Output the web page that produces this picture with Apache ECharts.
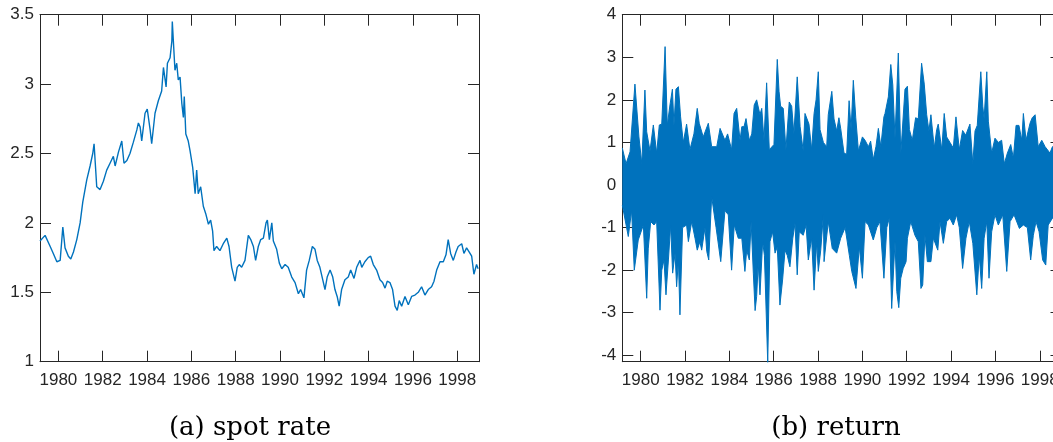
<!DOCTYPE html>
<html>
<head>
<meta charset="utf-8">
<script src="https://cdn.jsdelivr.net/npm/echarts@6/dist/echarts.min.js"></script>
<style>
  html, body { margin: 0; padding: 0; background: #fff; overflow: hidden; }
  #chart { width: 1075px; height: 442px; }
</style>
</head>
<body>
<div id="chart"></div>
<script>
// tick labels
const yearTicks = [1980, 1982, 1984, 1986, 1988, 1990, 1992, 1994, 1996, 1998];
const spotTicks = [1, 1.5, 2, 2.5, 3, 3.5];
const returnTicks = [-4, -3, -2, -1, 0, 1, 2, 3, 4];
const captions = ['(a) spot rate', '(b) return'];

// (a) spot rate: [year, rate]
const spotRate = [
  [1979.17, 1.87], [1979.40, 1.91], [1979.48, 1.91], [1979.63, 1.83], [1979.77, 1.78],
  [1979.93, 1.72], [1980.08, 1.73], [1980.20, 1.97], [1980.30, 1.82], [1980.45, 1.76],
  [1980.56, 1.74], [1980.68, 1.79], [1980.83, 1.88], [1980.98, 2.00], [1981.10, 2.15],
  [1981.28, 2.31], [1981.43, 2.41], [1981.55, 2.50], [1981.61, 2.57], [1981.73, 2.26],
  [1981.88, 2.24], [1982.03, 2.30], [1982.18, 2.38], [1982.33, 2.43], [1982.48, 2.48],
  [1982.56, 2.41], [1982.71, 2.51], [1982.86, 2.59], [1982.96, 2.43], [1983.09, 2.45],
  [1983.23, 2.50], [1983.38, 2.58], [1983.54, 2.67], [1983.61, 2.72], [1983.69, 2.69],
  [1983.76, 2.59], [1983.91, 2.79], [1984.01, 2.82], [1984.14, 2.67], [1984.21, 2.57],
  [1984.36, 2.79], [1984.51, 2.88], [1984.66, 2.95], [1984.74, 3.12], [1984.86, 2.98],
  [1984.92, 3.15], [1985.04, 3.19], [1985.12, 3.31], [1985.14, 3.45], [1985.26, 3.10],
  [1985.34, 3.15], [1985.41, 3.03], [1985.49, 3.05], [1985.57, 2.86], [1985.64, 2.76],
  [1985.68, 2.91], [1985.75, 2.64], [1985.86, 2.59], [1985.94, 2.52], [1986.06, 2.40],
  [1986.17, 2.21], [1986.24, 2.38], [1986.31, 2.21], [1986.42, 2.26], [1986.54, 2.12],
  [1986.66, 2.06], [1986.77, 1.99], [1986.87, 2.02], [1986.96, 1.94], [1987.02, 1.80],
  [1987.14, 1.83], [1987.29, 1.80], [1987.44, 1.85], [1987.60, 1.89], [1987.70, 1.83],
  [1987.82, 1.68], [1987.97, 1.58], [1988.07, 1.68], [1988.16, 1.70], [1988.27, 1.68],
  [1988.42, 1.73], [1988.57, 1.91], [1988.68, 1.88], [1988.80, 1.83], [1988.90, 1.73],
  [1989.02, 1.83], [1989.13, 1.88], [1989.25, 1.89], [1989.37, 2.00], [1989.43, 2.02],
  [1989.52, 1.88], [1989.63, 2.00], [1989.70, 1.87], [1989.85, 1.81], [1989.97, 1.71],
  [1990.08, 1.67], [1990.23, 1.70], [1990.37, 1.68], [1990.53, 1.61], [1990.68, 1.57],
  [1990.83, 1.49], [1990.93, 1.52], [1991.08, 1.46], [1991.20, 1.66], [1991.32, 1.73],
  [1991.46, 1.83], [1991.58, 1.81], [1991.68, 1.73], [1991.80, 1.68], [1991.93, 1.59],
  [1992.03, 1.52], [1992.13, 1.61], [1992.26, 1.66], [1992.38, 1.61], [1992.48, 1.52],
  [1992.58, 1.47], [1992.67, 1.40], [1992.78, 1.52], [1992.93, 1.59], [1993.08, 1.61],
  [1993.19, 1.66], [1993.34, 1.60], [1993.46, 1.68], [1993.61, 1.73], [1993.69, 1.68],
  [1993.83, 1.72], [1993.98, 1.75], [1994.09, 1.76], [1994.21, 1.70], [1994.36, 1.66],
  [1994.51, 1.59], [1994.63, 1.57], [1994.74, 1.53], [1994.84, 1.58], [1994.96, 1.57],
  [1995.08, 1.52], [1995.19, 1.40], [1995.29, 1.37], [1995.38, 1.44], [1995.49, 1.40],
  [1995.64, 1.47], [1995.79, 1.41], [1995.94, 1.47], [1996.09, 1.48], [1996.24, 1.50],
  [1996.39, 1.54], [1996.54, 1.48], [1996.69, 1.52], [1996.84, 1.54], [1996.95, 1.58],
  [1997.07, 1.66], [1997.22, 1.72], [1997.37, 1.72], [1997.49, 1.77], [1997.59, 1.88],
  [1997.70, 1.78], [1997.82, 1.73], [1997.94, 1.79], [1998.04, 1.83], [1998.20, 1.85],
  [1998.30, 1.78], [1998.42, 1.82], [1998.54, 1.79], [1998.65, 1.76], [1998.75, 1.63],
  [1998.87, 1.70], [1998.94, 1.67]
];

// (b) return: upward spikes and dips of the dense band
const returnHighs = [
  [1979.17, 0.87], [1979.22, 0.87], [1979.34, 0.5], [1979.52, 0.78], [1979.74, 2.37], [1979.92, 1.13],
  [1980.05, 0.5], [1980.19, 2.23], [1980.27, 1.25], [1980.42, 0.8], [1980.57, 1.41],
  [1980.72, 0.75], [1980.84, 1.41], [1980.95, 1.43], [1981.10, 3.25], [1981.20, 1.4],
  [1981.32, 1.88], [1981.43, 2.25], [1981.50, 1.4], [1981.59, 2.25], [1981.70, 2.31],
  [1981.80, 1.6], [1981.92, 1.0], [1982.07, 1.43], [1982.22, 0.83], [1982.40, 1.2],
  [1982.55, 1.8], [1982.64, 1.45], [1982.82, 1.13], [1983.05, 1.45], [1983.20, 0.9],
  [1983.43, 0.9], [1983.58, 1.33], [1983.80, 1.05], [1983.92, 1.2], [1984.10, 0.83],
  [1984.21, 1.68], [1984.33, 1.8], [1984.48, 1.05], [1984.56, 1.37], [1984.66, 1.37],
  [1984.75, 1.56], [1984.90, 1.05], [1985.01, 1.2], [1985.12, 1.88], [1985.23, 2.0],
  [1985.38, 1.65], [1985.46, 1.8], [1985.56, 1.05], [1985.68, 2.4], [1985.80, 0.83],
  [1986.01, 0.95], [1986.16, 2.95], [1986.24, 2.2], [1986.31, 1.85], [1986.43, 1.8],
  [1986.55, 0.83], [1986.70, 1.95], [1986.81, 1.85], [1986.91, 1.2], [1987.06, 2.54],
  [1987.19, 1.37], [1987.33, 0.8], [1987.41, 1.68], [1987.59, 1.43], [1987.71, 0.83],
  [1987.82, 1.68], [1987.91, 2.0], [1988.01, 2.66], [1988.09, 1.3], [1988.24, 1.0],
  [1988.39, 0.9], [1988.46, 1.65], [1988.62, 2.2], [1988.72, 1.55], [1988.84, 1.27],
  [1988.94, 1.58], [1989.02, 1.33], [1989.17, 0.75], [1989.29, 0.72], [1989.40, 1.98],
  [1989.49, 1.3], [1989.59, 2.46], [1989.70, 1.58], [1989.82, 0.8], [1990.00, 1.13],
  [1990.12, 1.05], [1990.27, 0.9], [1990.37, 1.03], [1990.49, 0.6], [1990.61, 0.9],
  [1990.72, 1.33], [1990.83, 0.9], [1990.97, 1.6], [1991.02, 1.68], [1991.17, 2.07],
  [1991.28, 2.83], [1991.37, 2.35], [1991.47, 1.1], [1991.55, 1.13], [1991.62, 3.1],
  [1991.73, 0.72], [1991.92, 2.25], [1992.03, 2.32], [1992.12, 1.3], [1992.25, 1.05],
  [1992.40, 1.58], [1992.52, 1.55], [1992.67, 2.86], [1992.79, 2.37], [1992.90, 1.65],
  [1993.00, 1.27], [1993.09, 1.65], [1993.24, 0.87], [1993.35, 1.3], [1993.42, 1.43],
  [1993.58, 0.83], [1993.69, 1.68], [1993.80, 1.13], [1993.95, 1.0], [1994.10, 0.87],
  [1994.22, 1.6], [1994.37, 0.83], [1994.52, 1.28], [1994.66, 1.17], [1994.85, 1.43],
  [1994.98, 0.5], [1995.08, 1.27], [1995.18, 1.4], [1995.25, 1.95], [1995.34, 2.66],
  [1995.43, 1.85], [1995.49, 1.55], [1995.61, 2.66], [1995.68, 1.5], [1995.83, 0.75],
  [1995.98, 1.1], [1996.13, 1.0], [1996.28, 1.05], [1996.40, 0.5], [1996.54, 0.75],
  [1996.69, 0.95], [1996.81, 0.63], [1996.93, 1.4], [1997.06, 1.4], [1997.19, 1.05],
  [1997.26, 1.68], [1997.38, 1.05], [1997.56, 1.45], [1997.66, 1.58], [1997.79, 1.65],
  [1997.93, 0.9], [1998.09, 1.05], [1998.24, 0.9], [1998.46, 0.75], [1998.57, 0.9],
  [1998.98, 0.9]
];

const returnLows = [
  [1979.17, -0.47], [1979.22, -0.47], [1979.44, -1.21], [1979.59, -0.6], [1979.71, -2.0], [1979.89, -1.29],
  [1980.12, -0.94], [1980.27, -2.66], [1980.34, -1.5], [1980.45, -0.86], [1980.60, -0.94],
  [1980.72, -0.86], [1980.87, -2.94], [1980.95, -2.0], [1981.05, -1.76], [1981.14, -2.58],
  [1981.25, -1.76], [1981.35, -0.94], [1981.44, -2.07], [1981.55, -1.6], [1981.62, -2.39],
  [1981.70, -1.76], [1981.77, -3.05], [1981.89, -1.0], [1982.07, -0.94], [1982.15, -1.33],
  [1982.30, -0.86], [1982.45, -1.25], [1982.55, -1.53], [1982.67, -1.33], [1982.75, -1.53],
  [1982.90, -1.0], [1982.98, -1.56], [1983.07, -1.76], [1983.20, -0.27], [1983.40, -1.0],
  [1983.61, -1.8], [1983.80, -0.6], [1983.95, -0.7], [1984.10, -2.0], [1984.22, -0.94],
  [1984.40, -1.25], [1984.56, -1.25], [1984.70, -2.03], [1984.78, -1.53], [1984.90, -1.76],
  [1984.98, -0.86], [1985.08, -2.07], [1985.16, -2.95], [1985.23, -2.62], [1985.30, -1.84],
  [1985.38, -2.58], [1985.50, -1.33], [1985.58, -1.65], [1985.73, -4.18], [1985.83, -1.33],
  [1985.95, -1.1], [1986.06, -1.6], [1986.16, -1.45], [1986.28, -2.82], [1986.40, -2.23],
  [1986.51, -1.53], [1986.61, -1.65], [1986.73, -1.92], [1986.86, -1.25], [1986.96, -0.9],
  [1987.06, -2.11], [1987.15, -1.1], [1987.33, -1.18], [1987.46, -0.94], [1987.56, -1.76],
  [1987.71, -1.25], [1987.82, -2.47], [1987.94, -1.33], [1988.01, -2.03], [1988.12, -1.53],
  [1988.24, -0.7], [1988.27, -1.8], [1988.46, -0.86], [1988.64, -1.49], [1988.84, -1.6],
  [1989.02, -1.25], [1989.22, -1.0], [1989.41, -1.65], [1989.52, -2.03], [1989.71, -2.43],
  [1989.86, -1.45], [1990.00, -2.19], [1990.12, -0.86], [1990.27, -0.94], [1990.49, -1.29],
  [1990.65, -1.0], [1990.79, -0.86], [1990.97, -2.19], [1991.10, -1.0], [1991.21, -0.78],
  [1991.32, -2.9], [1991.47, -1.33], [1991.55, -2.5], [1991.64, -2.88], [1991.73, -2.19],
  [1991.84, -1.96], [1991.97, -1.8], [1992.03, -1.25], [1992.18, -0.86], [1992.37, -1.18],
  [1992.52, -1.33], [1992.64, -2.43], [1992.72, -2.35], [1992.82, -1.18], [1992.93, -1.8],
  [1993.09, -1.8], [1993.20, -1.25], [1993.40, -1.53], [1993.50, -0.86], [1993.65, -1.37],
  [1993.80, -0.86], [1993.95, -0.78], [1994.10, -0.94], [1994.25, -0.7], [1994.37, -1.0],
  [1994.52, -1.96], [1994.67, -1.25], [1994.82, -0.86], [1994.98, -1.37], [1995.16, -2.58],
  [1995.27, -1.65], [1995.38, -2.43], [1995.49, -1.25], [1995.61, -0.86], [1995.71, -2.19],
  [1995.83, -1.1], [1995.98, -0.7], [1996.13, -0.94], [1996.33, -0.7], [1996.51, -2.03],
  [1996.66, -0.86], [1996.84, -0.7], [1997.08, -1.02], [1997.26, -0.94], [1997.44, -1.0],
  [1997.59, -1.76], [1997.71, -1.18], [1997.83, -0.86], [1997.97, -1.1], [1998.13, -1.76],
  [1998.27, -1.88], [1998.38, -0.94], [1998.57, -0.78], [1998.98, -0.8]
];

const ink = '#262626';
const lineBlue = '#0072BD';
const labelFont = { color: ink, fontFamily: 'Liberation Sans', fontSize: 17 };

function boxAxes(gridIndex, min, max, ticks, dim) {
  // MATLAB-style box: labelled axis plus a mirrored one with inward ticks only
  const isX = dim === 'x';
  const base = {
    type: 'value',
    gridIndex,
    min,
    max,
    axisLine: { show: true, onZero: false, lineStyle: { color: ink, width: 1 } },
    axisTick: { show: true, inside: true, length: 11, customValues: ticks, lineStyle: { color: ink } },
    splitLine: { show: false },
  };
  return [
    {
      ...base,
      position: isX ? 'bottom' : 'left',
      axisLabel: {
        ...labelFont,
        customValues: ticks,
        margin: isX ? 10 : 6,
        formatter: (v) => String(v),
      },
    },
    {
      ...base,
      position: isX ? 'top' : 'right',
      axisLabel: { show: false },
    },
  ];
}

// one half of the return band: line through the readings, filled to zero
function bandSeries(name, data) {
  return {
    name,
    type: 'line',
    xAxisIndex: 2,
    yAxisIndex: 2,
    data,
    showSymbol: false,
    lineStyle: { color: lineBlue, width: 1 },
    areaStyle: { color: lineBlue, opacity: 1, origin: 'auto' },
    z: 1,
  };
}

const chart = echarts.init(document.getElementById('chart'), null, { renderer: 'canvas' });

chart.setOption({
  animation: false,
  backgroundColor: '#fff',
  grid: [
    { left: 40, top: 14.7, width: 439, height: 347 },
    { left: 622.3, top: 14.7, width: 439.2, height: 347 },
  ],
  xAxis: [
    ...boxAxes(0, 1979.17, 1998.98, yearTicks, 'x'),
    ...boxAxes(1, 1979.17, 1998.98, yearTicks, 'x'),
  ],
  yAxis: [
    ...boxAxes(0, 1, 3.5, spotTicks, 'y'),
    ...boxAxes(1, -4.15, 4, returnTicks, 'y'),
  ],
  series: [
    {
      name: 'spot rate',
      type: 'line',
      xAxisIndex: 0,
      yAxisIndex: 0,
      data: spotRate,
      showSymbol: false,
      lineStyle: { color: lineBlue, width: 1.4 },
      z: 1,
    },
    bandSeries('return (up)', returnHighs),
    bandSeries('return (down)', returnLows),
  ],
  graphic: [
    {
      type: 'text',
      x: 250,
      y: 428,
      style: {
        text: captions[0],
        fill: '#000',
        font: '26px "DejaVu Serif"',
        textAlign: 'center',
        textVerticalAlign: 'middle',
      },
    },
    {
      type: 'text',
      x: 836,
      y: 428,
      style: {
        text: captions[1],
        fill: '#000',
        font: '26px "DejaVu Serif"',
        textAlign: 'center',
        textVerticalAlign: 'middle',
      },
    },
  ],
});
</script>
</body>
</html>
